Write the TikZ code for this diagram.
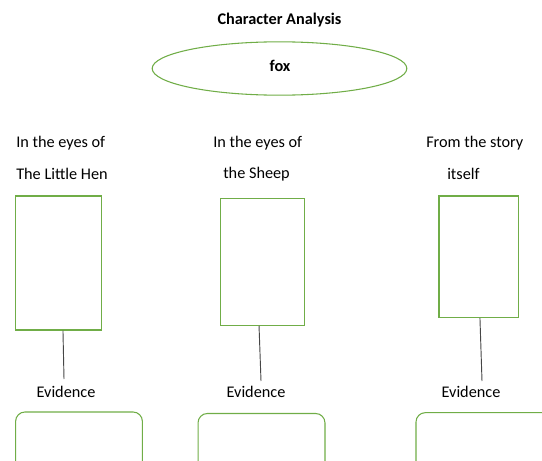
\documentclass[tikz,border=0pt]{standalone}
\usepackage{fontspec}
\setmainfont{Carlito}
\usetikzlibrary{shapes.geometric}
\definecolor{leafgreen}{RGB}{112,173,71}
\definecolor{stemgray}{RGB}{70,70,70}
\tikzset{
  txt/.style={inner sep=0pt, font=\fontsize{12.2}{14}\selectfont},
  heading/.style={txt, font=\fontsize{12.2}{14}\selectfont\bfseries},
  oval/.style={ellipse, draw=leafgreen, line width=0.8pt, inner sep=0pt},
  framebox/.style={rectangle, draw=leafgreen, line width=0.8pt, inner sep=0pt},
  proofbox/.style={rectangle, rounded corners=7pt, draw=leafgreen, line width=0.8pt, inner sep=0pt},
  link/.style={draw=stemgray, line width=0.7pt}
}
\begin{document}
\begin{tikzpicture}[x=0.75pt, y=-0.75pt]
  \clip (0,0) rectangle (542,460);
  \node[heading] (title) at (279.5,20) {Character Analysis};
  \node[oval, minimum width=191pt, minimum height=40pt] (fox) at (279.5,68.5) {};
  \node[heading] (foxname) at (280,66) {fox};
  % column headings
  \node[txt, anchor=west] (hen1) at (16,143) {In the eyes of};
  \node[txt, anchor=west] (hen2) at (16,174) {The Little Hen};
  \node[txt, anchor=west] (sheep1) at (213,143) {In the eyes of};
  \node[txt, anchor=west] (sheep2) at (223,174) {the Sheep};
  \node[txt, anchor=west] (story1) at (426,143) {From the story};
  \node[txt, anchor=west] (story2) at (447,174) {itself};
  % tall boxes
  \node[framebox, minimum width=64.5pt, minimum height=100.5pt] (box1) at (58.7,263) {};
  \node[framebox, minimum width=62.7pt, minimum height=95.2pt] (box2) at (262.5,262) {};
  \node[framebox, minimum width=59.6pt, minimum height=91.2pt] (box3) at (478.75,256.8) {};
  % evidence labels
  \node[txt] (ev1) at (66,392) {Evidence};
  \node[txt] (ev2) at (256,392) {Evidence};
  \node[txt] (ev3) at (471,392) {Evidence};
  \coordinate (tip1) at (64,379);
  \coordinate (tip2) at (261,381);
  \coordinate (tip3) at (482,381);
  \draw[link] ([xshift=3.2pt]box1.south) -- (tip1);
  \draw[link] ([xshift=-2.6pt]box2.south) -- (tip2);
  \draw[link] ([xshift=0.9pt]box3.south) -- (tip3);
  % evidence boxes (cut off at the bottom)
  \node[proofbox, minimum width=95.1pt, minimum height=51pt] (proof1) at (79,446) {};
  \node[proofbox, minimum width=95.2pt, minimum height=49.9pt] (proof2) at (261.5,446.75) {};
  \node[proofbox, minimum width=108pt, minimum height=50.5pt] (proof3) at (488,446.3) {};
\end{tikzpicture}
\end{document}
